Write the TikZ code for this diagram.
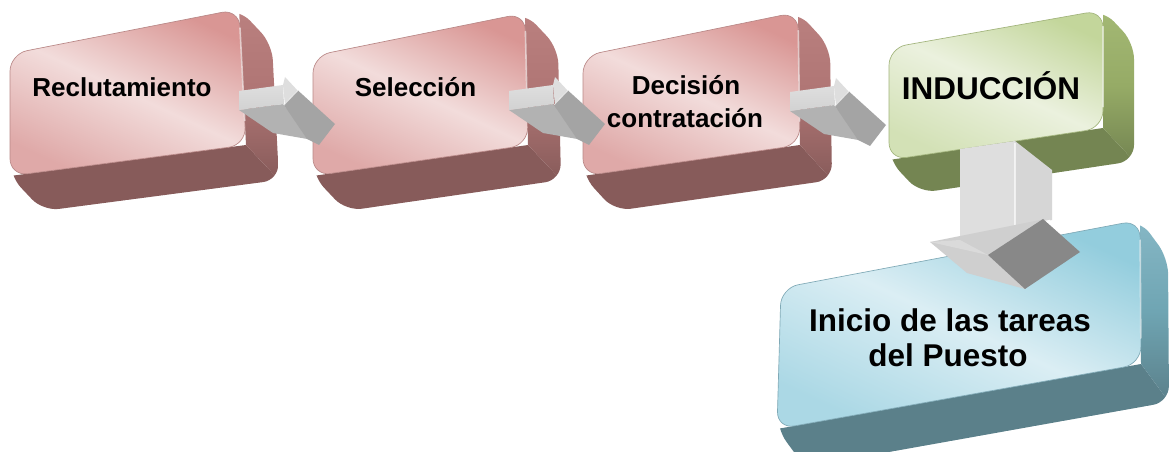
\documentclass[tikz,border=0pt]{standalone}
\usepackage{fontspec}
\setmainfont{Liberation Sans}
\usetikzlibrary{calc}
% red boxes
\definecolor{rtop}{HTML}{D99694}
\definecolor{rmid}{HTML}{F2DCDB}
\definecolor{rbot}{HTML}{DFA9A8}
\definecolor{rsidetop}{HTML}{BA807F}
\definecolor{rside}{HTML}{AF7574}
\definecolor{rbottom}{HTML}{875B5A}
\definecolor{redge}{HTML}{B98887}
% green box
\definecolor{gtop}{HTML}{C3D69B}
\definecolor{gmid}{HTML}{EBF1DE}
\definecolor{gbot}{HTML}{D3E1B6}
\definecolor{gsidetop}{HTML}{A3B874}
\definecolor{gside}{HTML}{96AB66}
\definecolor{gbottom}{HTML}{748552}
\definecolor{gedge}{HTML}{A2B47C}
% blue box
\definecolor{btop}{HTML}{93CDDD}
\definecolor{bmid}{HTML}{DBEEF4}
\definecolor{bbot}{HTML}{ABD8E5}
\definecolor{bsidetop}{HTML}{86B7C5}
\definecolor{bside}{HTML}{6FA5B3}
\definecolor{bbottom}{HTML}{5B808A}
\definecolor{bedge}{HTML}{7FA9B6}
% arrows
\definecolor{alight}{HTML}{DEDEDE}
\definecolor{alight2}{HTML}{D2D2D2}
\definecolor{amid}{HTML}{B2B2B2}
\definecolor{adark}{HTML}{A4A4A4}
\definecolor{adarker}{HTML}{888888}
\definecolor{ashaftside}{HTML}{D6D6D6}
\definecolor{aheadlight}{HTML}{CFCFCF}
\definecolor{awing}{HTML}{DADADA}

\tikzset{
  lbl/.style={font=\bfseries\fontsize{19.5}{23}\selectfont, inner sep=0pt, text=black},
  lblbig/.style={font=\bfseries\fontsize{23.6}{28}\selectfont, inner sep=0pt, text=black},
  frontface/.style={top color=#1top, bottom color=#1bot, middle color=#1mid,
    shading angle=-25, draw=#1edge, line width=0.5pt, rounded corners=13pt},
  sideface/.style={top color=#1sidetop, bottom color=#1bottom, middle color=#1side},
  bottomface/.style={fill=#1bottom},
}

\newcommand{\threedbox}[7]{%
  \coordinate (#1tl) at (#2);
  \coordinate (#1tr) at (#3);
  \coordinate (#1br) at (#4);
  \coordinate (#1bl) at (#5);
  \coordinate (#1trd) at ($(#1tr)+(#6)$);
  \coordinate (#1brd) at ($(#1br)+(#6)$);
  \coordinate (#1bld) at ($(#1bl)+(#6)$);
  \begin{scope}
    \clip[rounded corners=12pt] (#1tl) -- (#1tr) -- (#1trd) -- (#1brd) -- (#1bld) -- (#1bl) -- cycle;
    \fill[bottomface=#7] (#1bl) -- (#1br) -- (#1brd) -- (#1bld) -- cycle;
    \shade[sideface=#7] (#1tr) -- (#1trd) -- (#1brd) -- (#1br) -- cycle;
  \end{scope}
  \shade[frontface=#7] (#1tl) -- (#1tr) -- (#1br) -- (#1bl) -- cycle;
  \draw[white, opacity=0.55, line width=1.2pt, line cap=round]
    ($(#1tr)!0.14!(#1br)$) -- ($(#1tr)!0.82!(#1br)$);
}

\newcommand{\rightarrowblock}[3]{%
  \begin{scope}[shift={(#2,#3)}]
    \coordinate (#1s) at (239,100);
    \coordinate (#1e) at (335,124);
    \fill[amid] (239,110) -- (283,104) -- (313,140) -- (273,133) -- cycle;
    \shade[top color=alight, bottom color=alight2] (239,91) -- (283,85) -- (284,104) -- (239,110) -- cycle;
    \fill[alight] (283,85) -- (285,77) -- (298,91) -- (285,105) -- cycle;
    \fill[adark] (284,105) -- (298,90.5) -- (335,124) -- (319,145) -- (307,139) -- cycle;
    \draw[white, opacity=0.6, line width=0.6pt] (284,105) -- (298,90.5);
  \end{scope}
}

\begin{document}
\begin{tikzpicture}[x=0.75pt, y=-0.75pt]
  \useasboundingbox (0,0) rectangle (1171,452);
  \fill[white] (0,0) rectangle (1171,452);
  \clip (0,0) rectangle (1171,452);

  % boxes
  \threedbox{ba}{10,54}{239,9}{246,145}{10,176}{33,35}{r}
  \threedbox{bb}{313,56}{525,13}{528,145}{313,176}{33,35}{r}
  \threedbox{bc}{583,56}{798,12}{800,145}{583,176}{32,35}{r}
  \threedbox{bd}{889,48}{1103,10}{1103,128}{889,160}{31,33}{g}
  \threedbox{be}{781,288}{1140,220}{1141,364}{777,429}{28,38}{b}

  % horizontal arrows
  \rightarrowblock{aa}{0}{0}
  \rightarrowblock{ab}{270}{0}
  \rightarrowblock{ac}{551}{1}

  % down arrow
  \coordinate (ads) at (990,145);
  \coordinate (ade) at (1025,289);
  \fill[alight] (960,149) -- (1015,141) -- (1015,227) -- (960,240) -- cycle;
  \fill[ashaftside] (1015,141) -- (1052,170) -- (1052,220) -- (1015,227) -- cycle;
  \draw[white, line width=1pt] (1015,143) -- (1015,227) -- (1050,220.5);
  \fill[aheadlight] (930,242) -- (1045,219) -- (1025,289) -- (967,273) -- cycle;
  \fill[awing] (930,242) -- (960,240) -- (988,255) -- cycle;
  \fill[adarker] (988,255) -- (1043,219) -- (1080,252) -- (1025,289) -- cycle;

  % labels
  \node[lbl, anchor=base] (t1) at (122,97) {Reclutamiento};
  \node[lbl, anchor=base] (t2) at (415.5,97) {Selección};
  \node[lbl, anchor=base] (t3a) at (686,95) {Decisión};
  \node[lbl, anchor=base] (t3b) at (685,128) {contratación};
  \node[lblbig, anchor=base] (t4) at (991,100) {INDUCCIÓN};
  \node[lblbig, anchor=base] (t5a) at (950,332) {Inicio de las tareas};
  \node[lblbig, anchor=base] (t5b) at (948,367) {del Puesto};
\end{tikzpicture}
\end{document}
